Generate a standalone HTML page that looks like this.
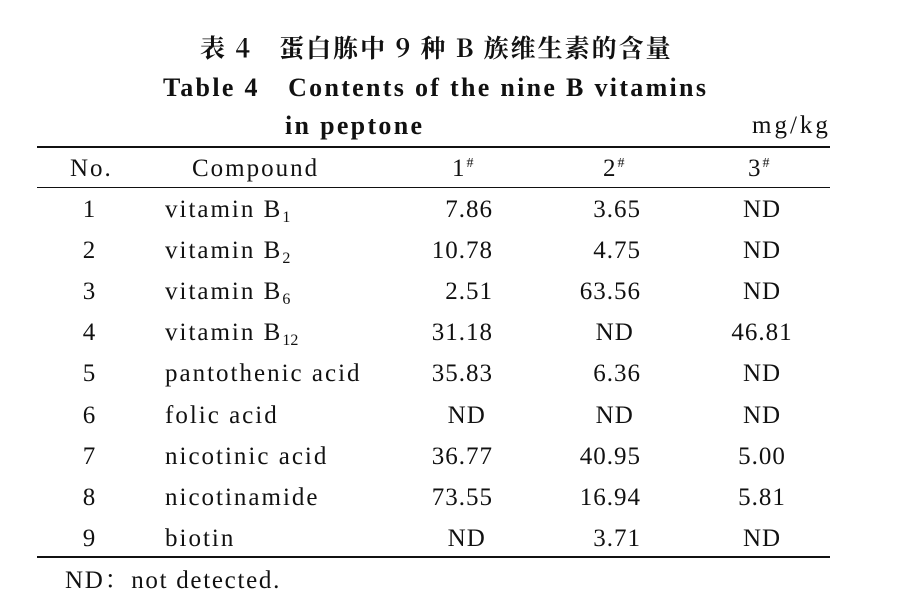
<!DOCTYPE html>
<html><head><meta charset="utf-8"><style>
body{margin:0;width:900px;height:608px;background:#fff;position:relative;overflow:hidden;font-family:"Liberation Serif","Noto Serif CJK SC",serif;color:#111}
.t{position:absolute;white-space:nowrap;line-height:1;font-size:25px;letter-spacing:2px}
.n{letter-spacing:1px}
.b{font-weight:bold}
.r{text-align:right}
.c{text-align:center}
.line{position:absolute;left:37px;width:793px;background:#111}
sub{font-size:16px;vertical-align:-5px;line-height:0;letter-spacing:0}
sup{font-size:14px;vertical-align:9px;line-height:0}
</style></head><body>
<div class="t b" style="left:200px;top:35px;font-size:25px;letter-spacing:2px;font-family:'Noto Serif CJK SC','Noto Sans CJK SC',serif">表 4　蛋白胨中 9 种 B 族维生素的含量</div>
<div class="t b" style="left:163px;top:75px;font-size:26px;letter-spacing:2.3px">Table 4　Contents of the nine B vitamins</div>
<div class="t b" style="left:285px;top:113px;font-size:26px;letter-spacing:2.3px">in peptone</div>
<div class="t" style="left:752px;top:113px;letter-spacing:3px">mg/kg</div>
<div class="line" style="top:146px;height:2px"></div>
<div class="t" style="left:70px;top:156px">No.</div>
<div class="t" style="left:192px;top:156px">Compound</div>
<div class="t" style="left:452px;top:156px">1<sup>#</sup></div>
<div class="t" style="left:603px;top:156px">2<sup>#</sup></div>
<div class="t" style="left:748px;top:156px">3<sup>#</sup></div>
<div class="line" style="top:187px;height:1px"></div>
<div id="rows"></div>
<div class="line" style="top:556px;height:2px"></div>
<div class="t" style="left:65px;top:568px;letter-spacing:1.7px">ND：not detected.</div>
<script>
var d=[["1","vitamin B<sub>1</sub>","7.86","3.65","ND"],["2","vitamin B<sub>2</sub>","10.78","4.75","ND"],["3","vitamin B<sub>6</sub>","2.51","63.56","ND"],["4","vitamin B<sub>12</sub>","31.18","ND","46.81"],["5","pantothenic acid","35.83","6.36","ND"],["6","folic acid","ND","ND","ND"],["7","nicotinic acid","36.77","40.95","5.00"],["8","nicotinamide","73.55","16.94","5.81"],["9","biotin","ND","3.71","ND"]];
var h="";
d.forEach(function(r,i){var y=197+i*41.1;
h+='<div class="t c" style="left:70px;width:40px;top:'+y+'px">'+r[0]+'</div>';
h+='<div class="t" style="left:165px;top:'+y+'px">'+r[1]+'</div>';
h+='<div class="t n r" style="left:392px;width:101px;top:'+y+'px">'+r[2]+(r[2]=="ND"?'&nbsp;':'')+'</div>';
h+='<div class="t n r" style="left:540px;width:101px;top:'+y+'px">'+r[3]+(r[3]=="ND"?'&nbsp;':'')+'</div>';
h+='<div class="t n c" style="left:712px;width:100px;top:'+y+'px">'+r[4]+'</div>';});
document.getElementById("rows").innerHTML=h;
</script>
</body></html>
